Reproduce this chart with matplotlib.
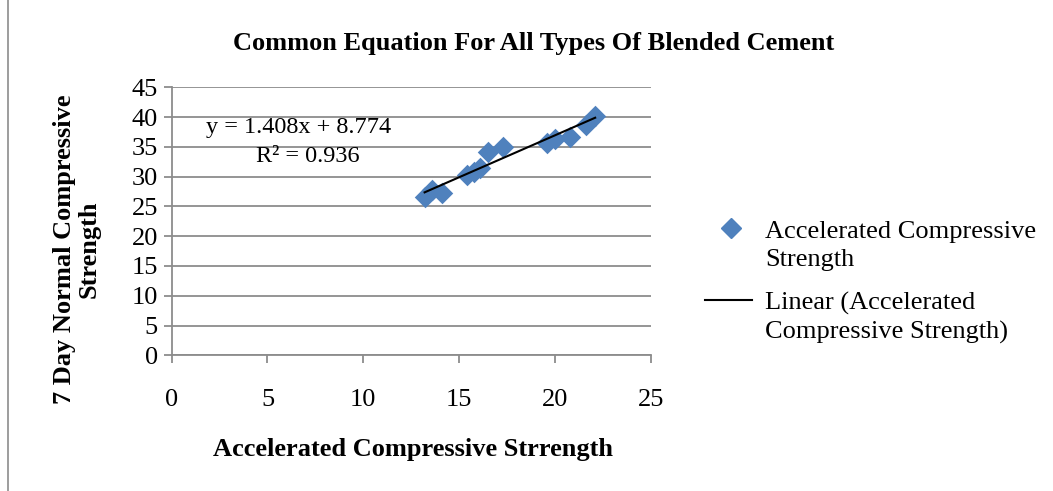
import matplotlib
matplotlib.use("Agg")
import matplotlib.pyplot as plt
from matplotlib.lines import Line2D
from matplotlib.patches import Rectangle

# Data
accel = [13.2, 13.6, 14.1, 15.4, 15.8, 16.1, 16.5, 17.3, 19.6, 20.0, 20.8, 21.6, 22.1]
normal7 = [26.5, 27.7, 27.3, 30.3, 30.8, 31.4, 34.1, 35.0, 35.7, 36.3, 36.7, 38.6, 40.1]
slope = 1.408
intercept = 8.774
r2 = 0.936
xticks = [0, 5, 10, 15, 20, 25]
yticks = [0, 5, 10, 15, 20, 25, 30, 35, 40, 45]

plt.rcParams['font.family'] = ['Liberation Serif', 'DejaVu Serif']

fig = plt.figure(figsize=(10.53, 4.91), dpi=100)
ax = fig.add_axes([0.163, 0.2764, 0.455, 0.5458])

grey = '#8c8c8c'
ax.set_xlim(0, 25)
ax.set_ylim(0, 45)
ax.set_xticks(xticks)
ax.set_yticks(yticks)
ax.grid(axis='y', color=grey, linewidth=1.3)
ax.set_axisbelow(True)
for s in ['top', 'right']:
    ax.spines[s].set_visible(False)
for s in ['left', 'bottom']:
    ax.spines[s].set_color(grey)
    ax.spines[s].set_linewidth(1.3)
ax.tick_params(axis='both', direction='out', length=6, width=1.3, color=grey,
               labelsize=19, pad=4)
ax.tick_params(axis='x', pad=18)

ax.scatter(accel, normal7, marker='D', s=120, color='#4f81bd', zorder=3,
           linewidths=0)
x0, x1 = min(accel), max(accel)
ax.plot([x0, x1], [slope * x0 + intercept, slope * x1 + intercept],
        color='black', linewidth=1.5, zorder=4)

ax.text(1.8, 38.3, f"y = {slope}x + {intercept}", fontsize=17.5, va='center')
ax.text(4.4, 33.3, f"R² = {r2}", fontsize=17.5, va='center')

fig.text(0.507, 0.912, "Common Equation For All Types Of Blended Cement",
         fontsize=19, fontweight='bold', ha='center', va='center')
fig.text(0.392, 0.085, "Accelerated Compressive Strrength", fontsize=19,
         fontweight='bold', ha='center', va='center')
fig.text(0.073, 0.492, "7 Day Normal Compressive\nStrength", fontsize=19,
         fontweight='bold', ha='center', va='center', rotation=90,
         linespacing=1.1)

# Legend
fig.lines.append(Line2D([731 / 1053], [1 - 228 / 491], marker='D', markersize=10,
                        color='#4f81bd', linestyle='none', transform=fig.transFigure))
fig.text(765 / 1053, 1 - 246 / 491, "Accelerated Compressive\nStrength",
         fontsize=19, va='center', ha='left', linespacing=1.35)
fig.lines.append(Line2D([705 / 1053, 752 / 1053], [1 - 300 / 491, 1 - 300 / 491],
                        color='black', linewidth=1.5, transform=fig.transFigure))
fig.text(765 / 1053, 1 - 318 / 491, "Linear (Accelerated\nCompressive Strength)",
         fontsize=19, va='center', ha='left', linespacing=1.35)

fig.patches.append(Rectangle((8 / 1053, -0.01), 1.2, 1.2, fill=False,
                             edgecolor=grey, linewidth=1.2,
                             transform=fig.transFigure))

fig.savefig("out.png", dpi=100)
